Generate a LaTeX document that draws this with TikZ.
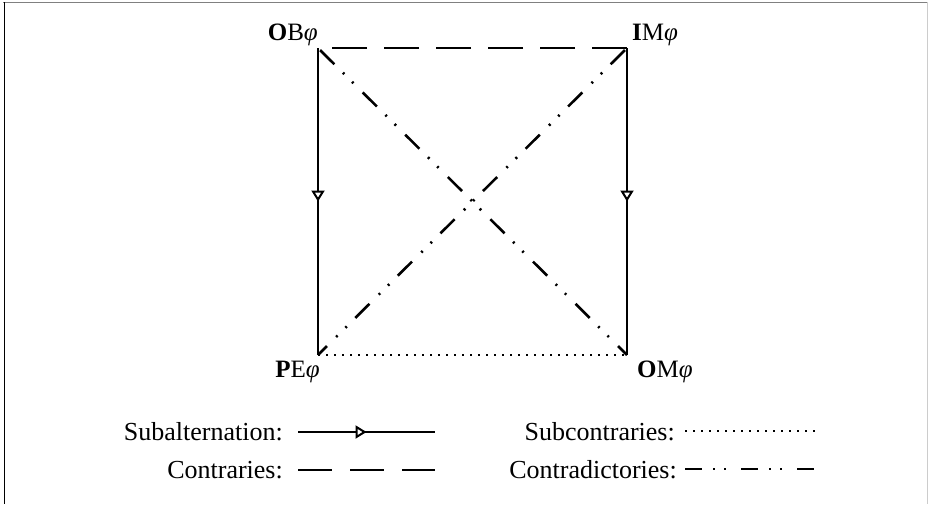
\documentclass[tikz,border=0pt]{standalone}
\usepackage{fontspec}
\setmainfont{Liberation Serif}
\usetikzlibrary{arrows.meta,decorations.markings}
\begin{document}
\begin{tikzpicture}[x=1pt,y=-1pt,
  lbl/.style={font=\fontsize{25}{29}\selectfont, inner sep=0pt},
  leg/.style={font=\fontsize{26}{30}\selectfont, inner sep=0pt},
  subalt/.style={line width=2.6pt, postaction={decorate},
    decoration={markings, mark=at position 0.5 with {\arrow{Triangle[length=11pt,width=13pt,fill=white,line width=2pt]}}}},
  contr/.style={line width=2.6pt, dash pattern=on 35pt off 17pt},
  subc/.style={line width=2.2pt, dash pattern=on 1.8pt off 6.2pt},
  contrad/.style={line width=2.6pt, dash pattern=on 20pt off 12pt on 2pt off 11pt on 2pt off 13pt, dash phase=57pt},
  contradleg/.style={line width=2.6pt, dash pattern=on 17pt off 11pt on 2pt off 9pt on 2pt off 15pt},
  pt/.style={inner sep=0pt, minimum size=0pt},
]
\useasboundingbox (0,0) rectangle (929,504);
% frame
\draw[gray, line width=1.5pt] (3,2.5) -- (928,2.5);
\draw[black, line width=1.5pt] (4.5,2) -- (4.5,504);
\draw[gray!40, line width=1pt] (927.5,2) -- (927.5,504);
% corners
\node[pt] (ob) at (318,48) {};
\node[pt] (im) at (627,48) {};
\node[pt] (pe) at (318,355) {};
\node[pt] (om) at (627,355) {};
% labels
\node[lbl, anchor=base east] (lob) at (318,40) {\textbf{O}B\textit{φ}};
\node[lbl, anchor=base west] (lim) at (632,40) {\textbf{I}M\textit{φ}};
\node[lbl, anchor=base east] (lpe) at (320,377) {\textbf{P}E\textit{φ}};
\node[lbl, anchor=base west] (lom) at (637,377) {\textbf{O}M\textit{φ}};
% edges
\draw[contrad] (ob.center) -- (om.center);
\draw[contrad] (im.center) -- (pe.center);
\draw[contr] (im.center) -- (ob.center);
\draw[subc] (pe.center) -- (om.center);
\draw[subalt] (ob.center) -- (pe.center);
\draw[subalt] (im.center) -- (om.center);
% legend
\node[leg, anchor=base east] (t1) at (283,440) {Subalternation:};
\node[leg, anchor=base east] (t2) at (283,478) {Contraries:};
\node[leg, anchor=base east] (t3) at (675,440) {Subcontraries:};
\node[leg, anchor=base east] (t4) at (677,478) {Contradictories:};
\node[pt] (a1) at (298,432) {}; \node[pt] (b1) at (435,432) {};
\node[pt] (a2) at (298,470) {}; \node[pt] (b2) at (435,470) {};
\node[pt] (a3) at (685,431) {}; \node[pt] (b3) at (815,431) {};
\node[pt] (a4) at (685,469) {}; \node[pt] (b4) at (815,469) {};
\draw[subalt] (a1.center) -- (b1.center);
\draw[line width=2.6pt, dash pattern=on 34pt off 18pt] (a2.center) -- (b2.center);
\draw[subc] (a3.center) -- (b3.center);
\draw[contradleg] (a4.center) -- (b4.center);
\end{tikzpicture}
\end{document}
